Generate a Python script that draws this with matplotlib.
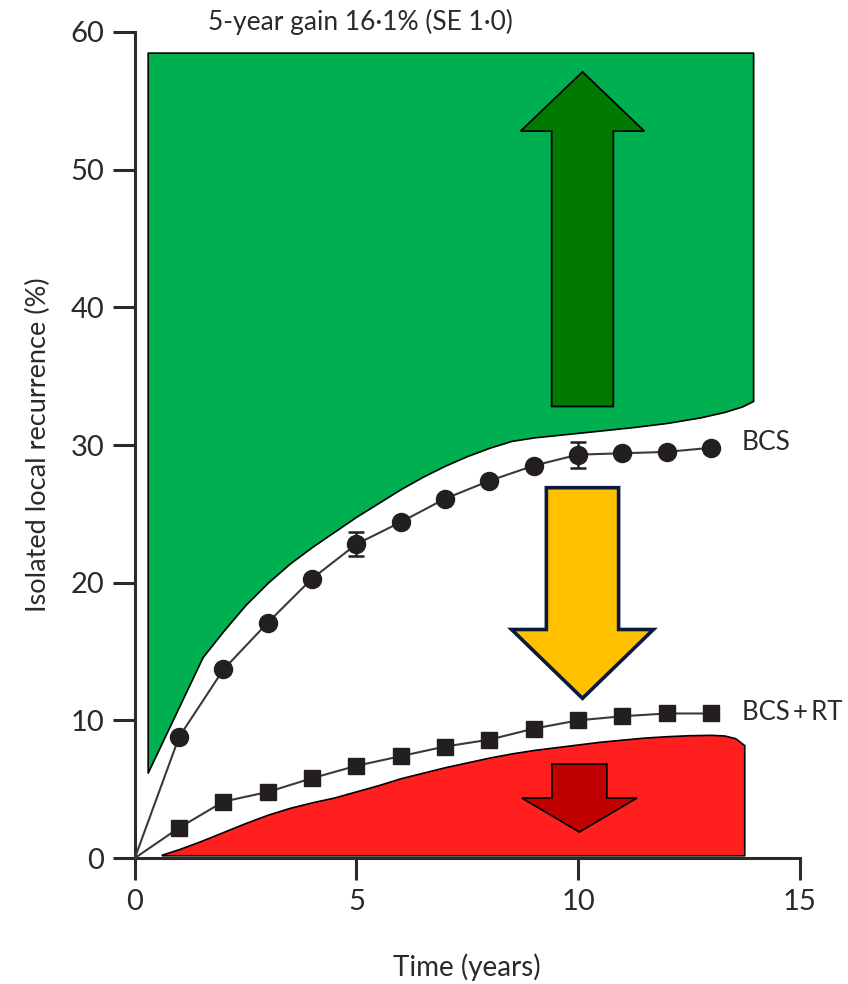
import numpy as np
import matplotlib
matplotlib.use("Agg")
import matplotlib.pyplot as plt
from matplotlib.patches import FancyArrow

# follow-up years
years = [0, 1, 2, 3, 4, 5, 6, 7, 8, 9, 10, 11, 12, 13]

# isolated local recurrence (%), breast-conserving surgery alone
bcs = [0, 8.8, 13.7, 17.1, 20.3, 22.8, 24.4, 26.1, 27.4, 28.5, 29.3, 29.4, 29.5, 29.8]
# with radiotherapy
bcs_rt = [0, 2.2, 4.1, 4.8, 5.8, 6.7, 7.4, 8.1, 8.6, 9.4, 10.0, 10.3, 10.5, 10.5]

# error bars shown at 5 and 10 years
err_years = [5, 10]
bcs_err = [0.85, 0.95]
bcs_rt_err = [0.0, 0.35]

# shaded "gain" band above BCS and the band below BCS+RT
green_x = [0.29, 1.53, 2.0, 2.5, 3.0, 3.5, 4.0, 4.5, 5.0, 5.5, 6.0, 6.5, 7.0, 7.5, 8.0, 8.5,
           9.0, 9.75, 10.5, 11.24, 12.0, 12.75, 13.3, 13.7, 13.95]
green_lo = [6.2, 14.6, 16.5, 18.4, 20.0, 21.4, 22.6, 23.7, 24.8, 25.8, 26.8, 27.7, 28.5, 29.2, 29.8, 30.3,
            30.55, 30.8, 31.05, 31.3, 31.6, 32.0, 32.4, 32.8, 33.2]
green_hi = 58.5
red_x = [0.61, 1.0, 1.5, 2.0, 2.5, 3.0, 3.5, 4.0, 4.5, 5.0, 5.5, 6.0, 6.5, 7.0, 7.5, 8.0, 8.5, 9.0,
         9.5, 10.0, 10.5, 11.0, 11.5, 12.0, 12.5, 13.0, 13.3, 13.55, 13.75]
red_hi = [0.25, 0.65, 1.25, 1.9, 2.55, 3.15, 3.65, 4.05, 4.4, 4.85, 5.3, 5.8, 6.2, 6.6, 6.95, 7.3, 7.6, 7.85,
          8.05, 8.25, 8.45, 8.6, 8.75, 8.85, 8.92, 8.95, 8.9, 8.7, 8.2]
red_lo = 0.2

plt.rcParams['font.family'] = ['Lato', 'DejaVu Sans']
txt = '#2a2a2a'

fig = plt.figure(figsize=(8.48, 9.84), dpi=100)
ax = fig.add_axes([0.159, 0.128, 0.784, 0.8395])

ax.fill_between(green_x, green_lo, green_hi, facecolor='#00AF50', edgecolor='black', lw=1.2, zorder=1)
ax.fill_between(red_x, red_lo, red_hi, facecolor='#FF1F1F', edgecolor='black', lw=1.2, zorder=1)

# arrows
ax.add_patch(FancyArrow(10.1, 32.8, 0, 24.3, width=1.39, head_width=2.79, head_length=4.3,
                        length_includes_head=True, facecolor='#007A00', edgecolor='black', lw=1.3, zorder=2))
ax.add_patch(FancyArrow(10.1, 26.9, 0, -15.3, width=1.63, head_width=3.2, head_length=5.0,
                        length_includes_head=True, facecolor='#FFC000', edgecolor='#0B1A3C', lw=2.6, zorder=2))
ax.add_patch(FancyArrow(10.03, 6.83, 0, -4.94, width=1.24, head_width=2.6, head_length=2.47,
                        length_includes_head=True, facecolor='#C00000', edgecolor='black', lw=1.2, zorder=2))

# curves
ax.plot(years, bcs, color='#3a3a3a', lw=1.5, marker='o', ms=13, mfc='#231f20', mec='#231f20',
        markevery=range(1, len(years)), zorder=4, clip_on=False)
ax.plot(years, bcs_rt, color='#3a3a3a', lw=1.5, marker='s', ms=11.5, mfc='#231f20', mec='#231f20',
        markevery=range(1, len(years)), zorder=4, clip_on=False)
ax.errorbar(err_years, [bcs[y] for y in err_years], yerr=bcs_err, fmt='none',
            ecolor='#231f20', elinewidth=1.8, capsize=6, capthick=1.8, zorder=5)
ax.errorbar(err_years, [bcs_rt[y] for y in err_years], yerr=bcs_rt_err, fmt='none',
            ecolor='#231f20', elinewidth=1.8, capsize=0, zorder=5)

ax.text(13.7, 30.2, 'BCS', fontsize=19, color=txt, va='center', ha='left')
ax.text(13.7, 10.6, 'BCS\u2009+\u2009RT', fontsize=18.5, color=txt, va='center', ha='left')
ax.text(5.1, 60.75, '5-year gain 16·1% (SE 1·0)', fontsize=19, color=txt, ha='center', va='center',
        clip_on=False)

ax.set_xlim(0, 15)
ax.set_ylim(0, 60)
ax.set_xticks([0, 5, 10, 15])
ax.set_yticks([0, 10, 20, 30, 40, 50, 60])
ax.set_xlabel('Time (years)', fontsize=20, color=txt, labelpad=28)
ax.set_ylabel('Isolated local recurrence (%)', fontsize=19.5, color=txt, labelpad=14)
for s in ['top', 'right']:
    ax.spines[s].set_visible(False)
for s in ['left', 'bottom']:
    ax.spines[s].set_linewidth(2.2)
    ax.spines[s].set_color('#2a2a2a')
ax.tick_params(direction='out', length=16, width=2.2, color='#2a2a2a', labelsize=21,
               labelcolor=txt, pad=6)

fig.savefig('out.png', dpi=100)
